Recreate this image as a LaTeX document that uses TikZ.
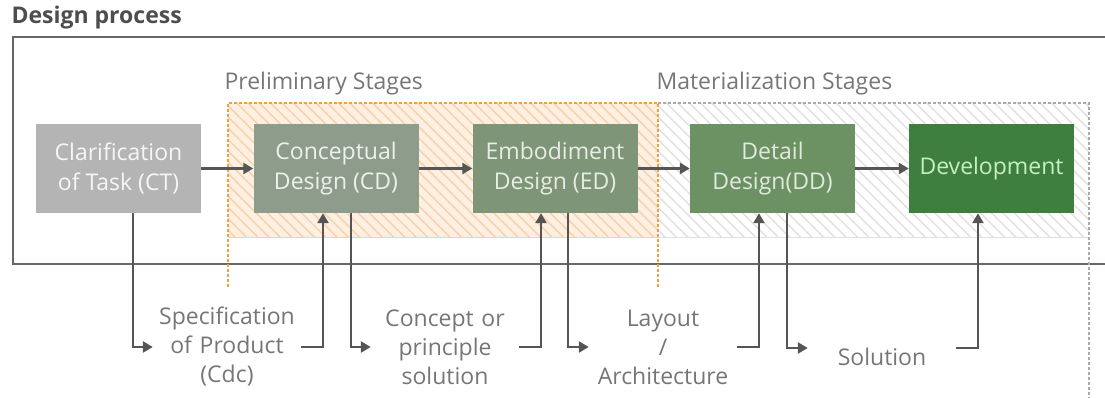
\documentclass[tikz,border=0pt]{standalone}
\usepackage{fontspec}
\setmainfont{Open Sans}
\usepackage{tikz}
\usetikzlibrary{arrows.meta}
\usetikzlibrary{patterns.meta}
\usetikzlibrary{positioning}
\definecolor{mgray}{HTML}{555555}
\definecolor{mframe}{HTML}{666666}
\definecolor{mtitle}{HTML}{4d4d4d}
\definecolor{mlabel}{HTML}{767676}
\definecolor{mct}{HTML}{b4b4b4}
\definecolor{mcd}{HTML}{8e9c8b}
\definecolor{med}{HTML}{7e9677}
\definecolor{mdd}{HTML}{6c9163}
\definecolor{mdev}{HTML}{3e7f3f}
\definecolor{mdevtext}{HTML}{c8efc0}
\definecolor{morange}{HTML}{f0a040}
\definecolor{morangefill}{HTML}{fdf0e2}
\definecolor{morangeline}{HTML}{f8d0a8}
\definecolor{mhatch}{HTML}{e0e0e0}
\definecolor{mdash}{HTML}{aaaaaa}
\tikzset{stage/.style = {minimum width=165pt, minimum height=89pt, inner sep=0pt,
                         align=center, font=\fontsize{23}{30}\selectfont}}
\tikzset{flow/.style = {draw=mgray, line width=2.5pt,
                        -{Triangle[length=10pt, width=11pt]}}}
\tikzset{output/.style = {text width=148pt, inner sep=0pt, align=center,
                          text=mlabel, font=\fontsize{23}{29}\selectfont}}
\tikzset{band/.style = {font=\fontsize{23}{26}\selectfont, text=mlabel, anchor=west}}

\begin{document}
\begin{tikzpicture}[x=1pt, y=-1pt]
      \useasboundingbox (0, 0) rectangle (1105, 398);
      \node[anchor=west, text=mtitle, font=\bfseries\fontsize{23}{26}\selectfont] (title) at (8, 18) {Design process};
      \draw[mframe, line width=1.5pt] (1105, 37) -| (13, 264) -- (1105, 264);
      \fill[morangefill] (228, 103) rectangle (658, 237);
      \fill[pattern={Lines[angle=-45, distance=8pt, line width=1.4pt]}, pattern color=morangeline] (228, 103) rectangle (658, 237);
      \fill[pattern={Lines[angle=-45, distance=8pt, line width=1.4pt]}, pattern color=mhatch] (658, 103) rectangle (1089, 237);
      \draw[morangeline, line width=1pt] (228, 237) -- (658, 237);
      \draw[mhatch, line width=1pt] (658, 237) -- (1089, 237);
      \draw[mdash, line width=1.5pt, densely dashed] (658, 103) -- (1089, 103) -- (1089, 398);
      \draw[morange, line width=1.5pt, densely dashed] (228, 287) -- (228, 103) -- (658, 103) -- (658, 287);
      \node[band] (prelim) at (221, 84) {Preliminary Stages};
      \node[band] (mater) at (653, 84) {Materialization Stages};
      \node[stage, fill=mct, text=white!88!mct] (ct) at (118.5, 168.5) {Clarification\\of Task (CT)};
      \node[stage, fill=mcd, text=white!85!mcd] (cd) at (336, 168.5) {Conceptual\\Design (CD)};
      \node[stage, fill=med, text=white!82!med] (ed) at (555, 168.5) {Embodiment\\Design (ED)};
      \node[stage, fill=mdd, text=white!80!mdd] (dd) at (772.5, 168.5) {Detail\\Design(DD)};
      \node[stage, fill=mdev, text=mdevtext] (dev) at (991.5, 168.5) {Development};
      \draw[flow] (ct) -- (cd);
      \draw[flow] (cd) -- (ed);
      \draw[flow] (ed) -- (dd);
      \draw[flow] (dd) -- (dev);
      \node[output] (spec) at (227, 347) {Specification\\of Product\\(Cdc)};
      \node[output] (concept) at (445, 347) {Concept or\\principle\\solution};
      \node[output] (layout) at (663, 347) {Layout\\/\\Architecture};
      \node[output] (solution) at (882, 357) {Solution};
      \draw[flow] ([xshift=14.5pt]ct.south) |- (spec.west);
      \draw[flow] (spec.east) -| ([xshift=-13pt]cd.south);
      \draw[flow] ([xshift=15pt]cd.south) |- (concept.west);
      \draw[flow] (concept.east) -| ([xshift=-14pt]ed.south);
      \draw[flow] ([xshift=13pt]ed.south) |- (layout.west);
      \draw[flow] (layout.east) -| ([xshift=-13.5pt]dd.south);
      \draw[flow] ([xshift=14.5pt]dd.south) |- ([yshift=9pt]solution.west);
      \draw[flow] ([yshift=9pt]solution.east) -| ([xshift=-13.5pt]dev.south);
    \end{tikzpicture}
\end{document}
